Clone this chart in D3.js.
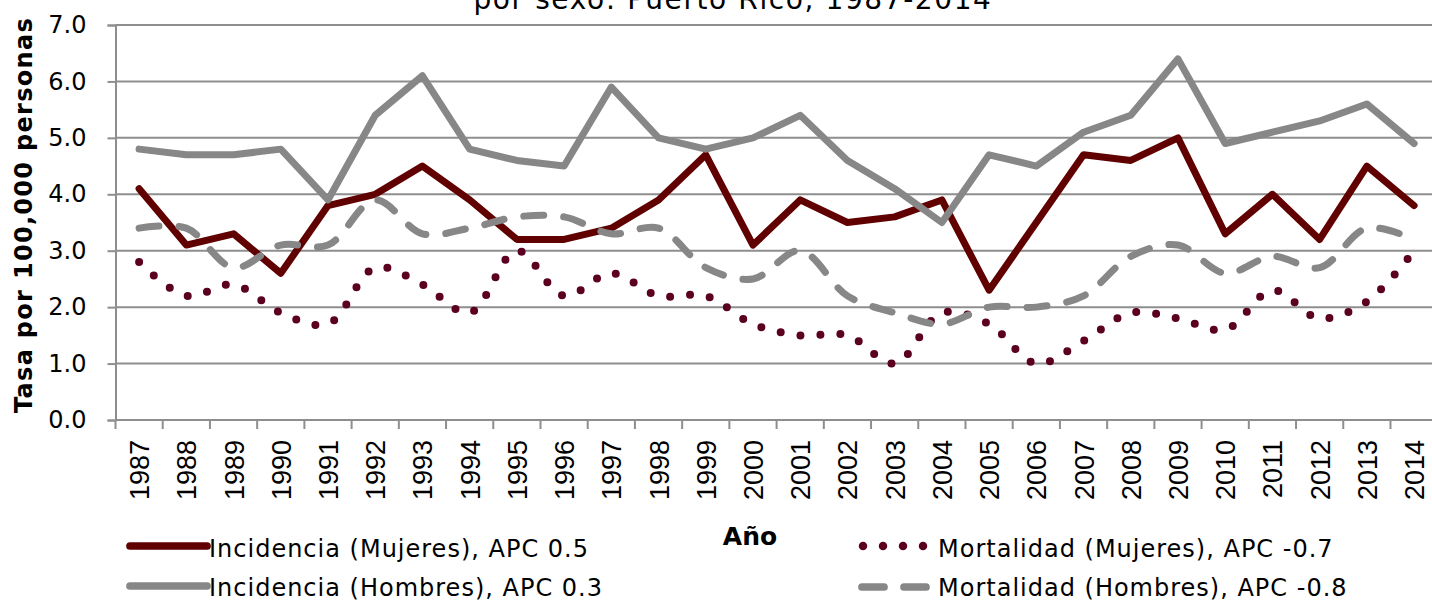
<!DOCTYPE html>
<html>
<head>
<meta charset="utf-8">
<script src="https://cdn.jsdelivr.net/npm/d3@7"></script>
<style>
  html, body { margin: 0; padding: 0; background: #fff; overflow: hidden; }
  svg { display: block; }
</style>
</head>
<body>
<svg id="chart" width="1432" height="602"></svg>
<script>
const years = [1987,1988,1989,1990,1991,1992,1993,1994,1995,1996,1997,1998,1999,2000,
               2001,2002,2003,2004,2005,2006,2007,2008,2009,2010,2011,2012,2013,2014];
const incidenciaMujeres = [4.1,3.1,3.3,2.6,3.8,4.0,4.5,3.9,3.2,3.2,3.4,3.9,4.7,3.1,
                           3.9,3.5,3.6,3.9,2.3,3.5,4.7,4.6,5.0,3.3,4.0,3.2,4.5,3.8];
const incidenciaHombres = [4.8,4.7,4.7,4.8,3.9,5.4,6.1,4.8,4.6,4.5,5.9,5.0,4.8,5.0,
                           5.4,4.6,4.1,3.5,4.7,4.5,5.1,5.4,6.4,4.9,5.1,5.3,5.6,4.9];
const mortalidadMujeres = [2.8,2.2,2.4,1.9,1.7,2.7,2.4,1.9,3.0,2.2,2.6,2.2,2.2,1.7,
                           1.5,1.5,1.0,1.9,1.7,1.0,1.4,1.9,1.8,1.6,2.3,1.8,2.1,3.0];
const mortalidadHombres = [3.4,3.4,2.7,3.1,3.1,3.9,3.3,3.4,3.6,3.6,3.3,3.4,2.7,2.5,
                           3.0,2.2,1.9,1.7,2.0,2.0,2.2,2.9,3.1,2.6,2.9,2.7,3.4,3.2];
const yTicks = [0,1,2,3,4,5,6,7];
const seriesNames = ["Incidencia (Mujeres), APC 0.5","Mortalidad (Mujeres), APC -0.7",
                     "Incidencia (Hombres), APC 0.3","Mortalidad (Hombres), APC -0.8"];
const titleText = "por sexo: Puerto Rico, 1987-2014";
const yTitle = "Tasa por 100,000 personas";
const xTitle = "Año";

const RED = "#600000", DOT = "#5c0022", GRAY = "#878787", GRID = "#8e8e8e";
const FONT = "'DejaVu Sans', sans-serif";

const svg = d3.select("#chart");
const x = d3.scaleBand().domain(years).range([115.5, 1437.7]).padding(0);
const y = d3.scaleLinear().domain([0, 7]).range([420, 25]);
const cx = d => x(d) + x.bandwidth() / 2;

// title (cropped at top, as in the reference)
svg.append("text").attr("x", 733).attr("y", 9).attr("text-anchor", "middle")
  .attr("font-family", FONT).attr("font-size", 28).attr("letter-spacing", 1.6)
  .attr("fill", "#000").text(titleText);

// gridlines
svg.append("g").selectAll("line").data(yTicks.filter(d => d > 0)).join("line")
  .attr("x1", 115.5).attr("x2", 1437.7)
  .attr("y1", d => y(d)).attr("y2", d => y(d))
  .attr("stroke", GRID).attr("stroke-width", 2);

// y axis
const yAxis = svg.append("g").attr("transform", "translate(115.5,0)")
  .call(d3.axisLeft(y).tickValues(yTicks).tickFormat(d3.format(".1f")).tickSize(8).tickPadding(21));
yAxis.select(".domain").attr("stroke", GRID).attr("stroke-width", 2);
yAxis.selectAll(".tick line").attr("stroke", GRID).attr("stroke-width", 2);
yAxis.selectAll(".tick text").attr("font-family", FONT).attr("font-size", 24).attr("fill", "#000");

// x axis
const xg = svg.append("g");
xg.append("line").attr("x1", 115.5).attr("x2", 1437.7).attr("y1", y(0)).attr("y2", y(0))
  .attr("stroke", GRID).attr("stroke-width", 2);
xg.selectAll("line.tick").data(years.concat(["end"])).join("line").attr("class", "tick")
  .attr("x1", d => d === "end" ? x(years[years.length-1]) + x.bandwidth() : x(d))
  .attr("x2", d => d === "end" ? x(years[years.length-1]) + x.bandwidth() : x(d))
  .attr("y1", y(0)).attr("y2", y(0) + 9)
  .attr("stroke", GRID).attr("stroke-width", 2);
xg.selectAll("text").data(years).join("text")
  .attr("transform", d => `translate(${cx(d) + 10},440) rotate(-90)`)
  .attr("text-anchor", "end")
  .attr("font-family", "'Liberation Sans', Arial, sans-serif").attr("font-size", 27)
  .attr("fill", "#000").text(d => d);

// axis titles
svg.append("text").attr("transform", "translate(32,215) rotate(-90)")
  .attr("text-anchor", "middle").attr("font-family", FONT).attr("font-weight", "bold")
  .attr("font-size", 24).attr("letter-spacing", 1.3).attr("fill", "#000").text(yTitle);
svg.append("text").attr("x", 750).attr("y", 545).attr("text-anchor", "middle")
  .attr("font-family", FONT).attr("font-weight", "bold").attr("font-size", 25)
  .attr("fill", "#000").text(xTitle);

// series
const straight = d3.line().x((d, i) => cx(years[i])).y(d => y(d));
const smooth = d3.line().x((d, i) => cx(years[i])).y(d => y(d)).curve(d3.curveCatmullRom.alpha(0.5));

const styles = [
  { data: incidenciaMujeres, gen: straight, color: RED, w: 7, dash: null },
  { data: mortalidadMujeres, gen: smooth, color: DOT, w: 8, dash: "0 20" },
  { data: incidenciaHombres, gen: straight, color: GRAY, w: 7, dash: null },
  { data: mortalidadHombres, gen: smooth, color: GRAY, w: 7, dash: "20 20" }
];
styles.forEach(s => {
  svg.append("path").attr("d", s.gen(s.data)).attr("fill", "none")
    .attr("stroke", s.color).attr("stroke-width", s.w)
    .attr("stroke-linecap", "round").attr("stroke-linejoin", "round")
    .attr("stroke-dasharray", s.dash);
});

// legend
const legendPos = [
  { lx1: 130, lx2: 207, ly: 546, tx: 209, ty: 557 },
  { lx1: 863, lx2: 925, ly: 546, tx: 938, ty: 557 },
  { lx1: 130, lx2: 207, ly: 586, tx: 209, ty: 596 },
  { lx1: 862, lx2: 926, ly: 587, tx: 938, ty: 596 }
];
legendPos.forEach((p, k) => {
  const s = styles[k];
  svg.append("line").attr("x1", p.lx1).attr("x2", p.lx2).attr("y1", p.ly).attr("y2", p.ly)
    .attr("stroke", s.color).attr("stroke-width", k === 1 ? 8.5 : 7.7)
    .attr("stroke-linecap", "round")
    .attr("stroke-dasharray", k === 1 ? "0 20" : (k === 3 ? "22 20" : null));
  svg.append("text").attr("x", p.tx).attr("y", p.ty)
    .attr("font-family", FONT).attr("font-size", 24).attr("letter-spacing", 1)
    .attr("fill", "#000").text(seriesNames[k]);
});
</script>
</body>
</html>
